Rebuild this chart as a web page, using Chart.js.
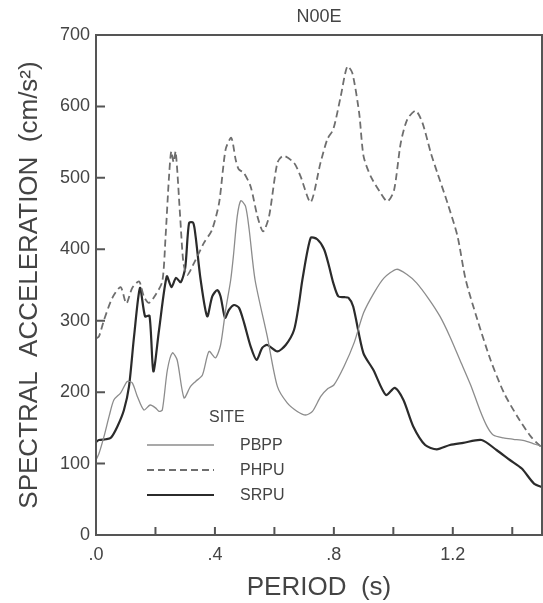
<!DOCTYPE html>
<html>
<head>
<meta charset="utf-8">
<script src="https://cdn.jsdelivr.net/npm/chart.js@4.4.0/dist/chart.umd.min.js"></script>
<style>
  body { margin: 0; background: #fff; }
  #wrap { width: 543px; height: 603px; }
</style>
</head>
<body>
<div id="wrap"><canvas id="spectra" width="543" height="603"></canvas></div>
<script>
// period (s) / spectral acceleration (cm/s^2)
const pbppPeriod = [0, 0.01, 0.027, 0.044, 0.06, 0.083, 0.105, 0.122, 0.139, 0.161, 0.182, 0.2, 0.212, 0.223, 0.24, 0.257, 0.273, 0.296, 0.318, 0.335, 0.358, 0.38, 0.402, 0.419, 0.436, 0.453, 0.462, 0.475, 0.487, 0.503, 0.515, 0.535, 0.576, 0.61, 0.643, 0.677, 0.705, 0.728, 0.756, 0.78, 0.8, 0.834, 0.868, 0.9, 0.935, 0.969, 1.011, 1.045, 1.078, 1.12, 1.157, 1.19, 1.224, 1.26, 1.291, 1.315, 1.336, 1.37, 1.404, 1.44, 1.47, 1.5];
const pbppAccel = [105, 114, 138, 166, 189, 199, 215, 213, 194, 175, 182, 178, 173, 175, 231, 255, 245, 192, 208, 215, 224, 257, 248, 266, 315, 357, 390, 446, 468, 460, 428, 357, 278, 208, 185, 173, 168, 173, 194, 205, 210, 236, 269, 311, 339, 360, 372, 365, 353, 330, 306, 278, 245, 210, 175, 152, 140, 136, 134, 132, 128, 124];

const phpuPeriod = [0, 0.01, 0.027, 0.055, 0.083, 0.102, 0.122, 0.145, 0.161, 0.178, 0.2, 0.223, 0.234, 0.245, 0.253, 0.261, 0.268, 0.283, 0.294, 0.307, 0.33, 0.363, 0.39, 0.414, 0.436, 0.455, 0.47, 0.48, 0.497, 0.52, 0.543, 0.562, 0.582, 0.61, 0.63, 0.666, 0.688, 0.722, 0.755, 0.778, 0.798, 0.823, 0.845, 0.862, 0.885, 0.9, 0.924, 0.957, 0.98, 1.002, 1.025, 1.047, 1.075, 1.098, 1.126, 1.148, 1.182, 1.216, 1.243, 1.283, 1.327, 1.372, 1.417, 1.462, 1.5];
const phpuAccel = [275, 278, 301, 332, 347, 324, 346, 355, 334, 325, 336, 355, 418, 498, 537, 522, 537, 446, 381, 364, 381, 409, 427, 465, 540, 556, 525, 512, 507, 488, 446, 425, 446, 521, 531, 521, 502, 466, 521, 554, 568, 614, 656, 647, 591, 530, 502, 479, 467, 482, 549, 582, 594, 577, 535, 507, 465, 418, 358, 301, 245, 199, 166, 138, 122];

const srpuPeriod = [0, 0.01, 0.033, 0.05, 0.072, 0.094, 0.111, 0.128, 0.148, 0.165, 0.18, 0.193, 0.212, 0.238, 0.254, 0.269, 0.285, 0.3, 0.313, 0.327, 0.335, 0.352, 0.374, 0.391, 0.408, 0.419, 0.434, 0.447, 0.464, 0.481, 0.498, 0.52, 0.54, 0.559, 0.576, 0.61, 0.638, 0.666, 0.683, 0.694, 0.722, 0.744, 0.767, 0.784, 0.798, 0.815, 0.835, 0.849, 0.865, 0.899, 0.933, 0.975, 1.005, 1.034, 1.067, 1.107, 1.146, 1.19, 1.235, 1.297, 1.347, 1.392, 1.432, 1.473, 1.5];
const srpuAccel = [130, 133, 134, 136, 152, 175, 208, 278, 346, 306, 307, 229, 287, 362, 347, 360, 354, 374, 437, 437, 418, 357, 306, 334, 343, 334, 304, 315, 322, 318, 297, 264, 245, 262, 266, 257, 266, 287, 325, 357, 416, 414, 400, 376, 353, 334, 333, 332, 320, 255, 231, 196, 206, 189, 152, 126, 120, 126, 129, 133, 119, 105, 93, 72, 67];

const siteNames = ["PBPP", "PHPU", "SRPU"];
const xTickValues = [0, 0.2, 0.4, 0.6, 0.8, 1.0, 1.2, 1.4];
const xTickLabels = [".0", "", ".4", "", ".8", "", "1.2", ""];
const yTickValues = [0, 100, 200, 300, 400, 500, 600, 700];

const FONT = "'Liberation Sans', Arial, sans-serif";
const INK = "#444";

const toPoints = (px, py) => px.map((p, i) => ({ x: p, y: py[i] }));

// frame around the plot, inward tick marks, and the SITE key
const framePlugin = {
  id: "frame",
  afterDraw(chart) {
    const { ctx, chartArea: a, scales } = chart;
    ctx.save();
    ctx.strokeStyle = "#555";
    ctx.lineWidth = 2;
    ctx.strokeRect(a.left, a.top, a.right - a.left, a.bottom - a.top);

    ctx.beginPath();
    scales.x.ticks.forEach((t) => {
      const px = scales.x.getPixelForValue(t.value);
      ctx.moveTo(px, a.bottom);
      ctx.lineTo(px, a.bottom - 8);
    });
    scales.y.ticks.forEach((t) => {
      const py = scales.y.getPixelForValue(t.value);
      ctx.moveTo(a.left, py);
      ctx.lineTo(a.left + 9, py);
    });
    ctx.stroke();

    // key
    ctx.fillStyle = INK;
    ctx.font = "16px " + FONT;
    ctx.textBaseline = "alphabetic";
    ctx.fillText("SITE", 209, 422);
    ctx.textBaseline = "middle";
    chart.data.datasets.forEach((ds, i) => {
      const y = 445 + i * 25;
      ctx.beginPath();
      ctx.strokeStyle = ds.borderColor;
      ctx.lineWidth = ds.borderWidth;
      ctx.setLineDash(ds.borderDash || []);
      ctx.moveTo(147, y);
      ctx.lineTo(214, y);
      ctx.stroke();
      ctx.setLineDash([]);
      ctx.fillText(ds.label, 240, y + 1);
    });
    ctx.restore();
  }
};

new Chart(document.getElementById("spectra"), {
  type: "line",
  data: {
    datasets: [
      {
        label: siteNames[0],
        data: toPoints(pbppPeriod, pbppAccel),
        borderColor: "#8c8c8c",
        borderWidth: 1.3,
        pointRadius: 0,
        tension: 0.25
      },
      {
        label: siteNames[1],
        data: toPoints(phpuPeriod, phpuAccel),
        borderColor: "#6e6e6e",
        borderWidth: 1.8,
        borderDash: [7, 4],
        pointRadius: 0,
        tension: 0.25
      },
      {
        label: siteNames[2],
        data: toPoints(srpuPeriod, srpuAccel),
        borderColor: "#2b2b2b",
        borderWidth: 2.2,
        pointRadius: 0,
        tension: 0.25
      }
    ]
  },
  options: {
    responsive: false,
    animation: false,
    layout: { padding: { top: 0, right: 1, left: 0, bottom: 0 } },
    plugins: {
      legend: { display: false },
      tooltip: { enabled: false },
      title: {
        display: true,
        text: "N00E",
        fullSize: false,
        color: INK,
        font: { family: FONT, size: 18, weight: "normal" },
        padding: { top: 6, bottom: 7.4 }
      }
    },
    scales: {
      x: {
        type: "linear",
        min: 0,
        max: 1.5,
        afterBuildTicks: (s) => { s.ticks = xTickValues.map((v) => ({ value: v })); },
        afterFit: (s) => { s.height = 68; },
        grid: { display: false, drawTicks: false },
        border: { display: false },
        ticks: {
          color: INK,
          padding: 9,
          maxRotation: 0,
          autoSkip: false,
          font: { family: FONT, size: 18 },
          callback: (v, i) => xTickLabels[i]
        },
        title: {
          display: true,
          text: "PERIOD  (s)",
          color: INK,
          font: { family: FONT, size: 26 },
          padding: { top: 0, bottom: 0 }
        }
      },
      y: {
        min: 0,
        max: 700,
        afterBuildTicks: (s) => { s.ticks = yTickValues.map((v) => ({ value: v })); },
        afterFit: (s) => { s.width = 96; },
        grid: { display: false, drawTicks: false },
        border: { display: false },
        ticks: {
          color: INK,
          padding: 6,
          autoSkip: false,
          font: { family: FONT, size: 18 }
        },
        title: {
          display: true,
          text: "SPECTRAL  ACCELERATION  (cm/s²)",
          color: INK,
          font: { family: FONT, size: 26 },
          padding: { top: 14, bottom: 0 }
        }
      }
    }
  },
  plugins: [framePlugin]
});
</script>
</body>
</html>
